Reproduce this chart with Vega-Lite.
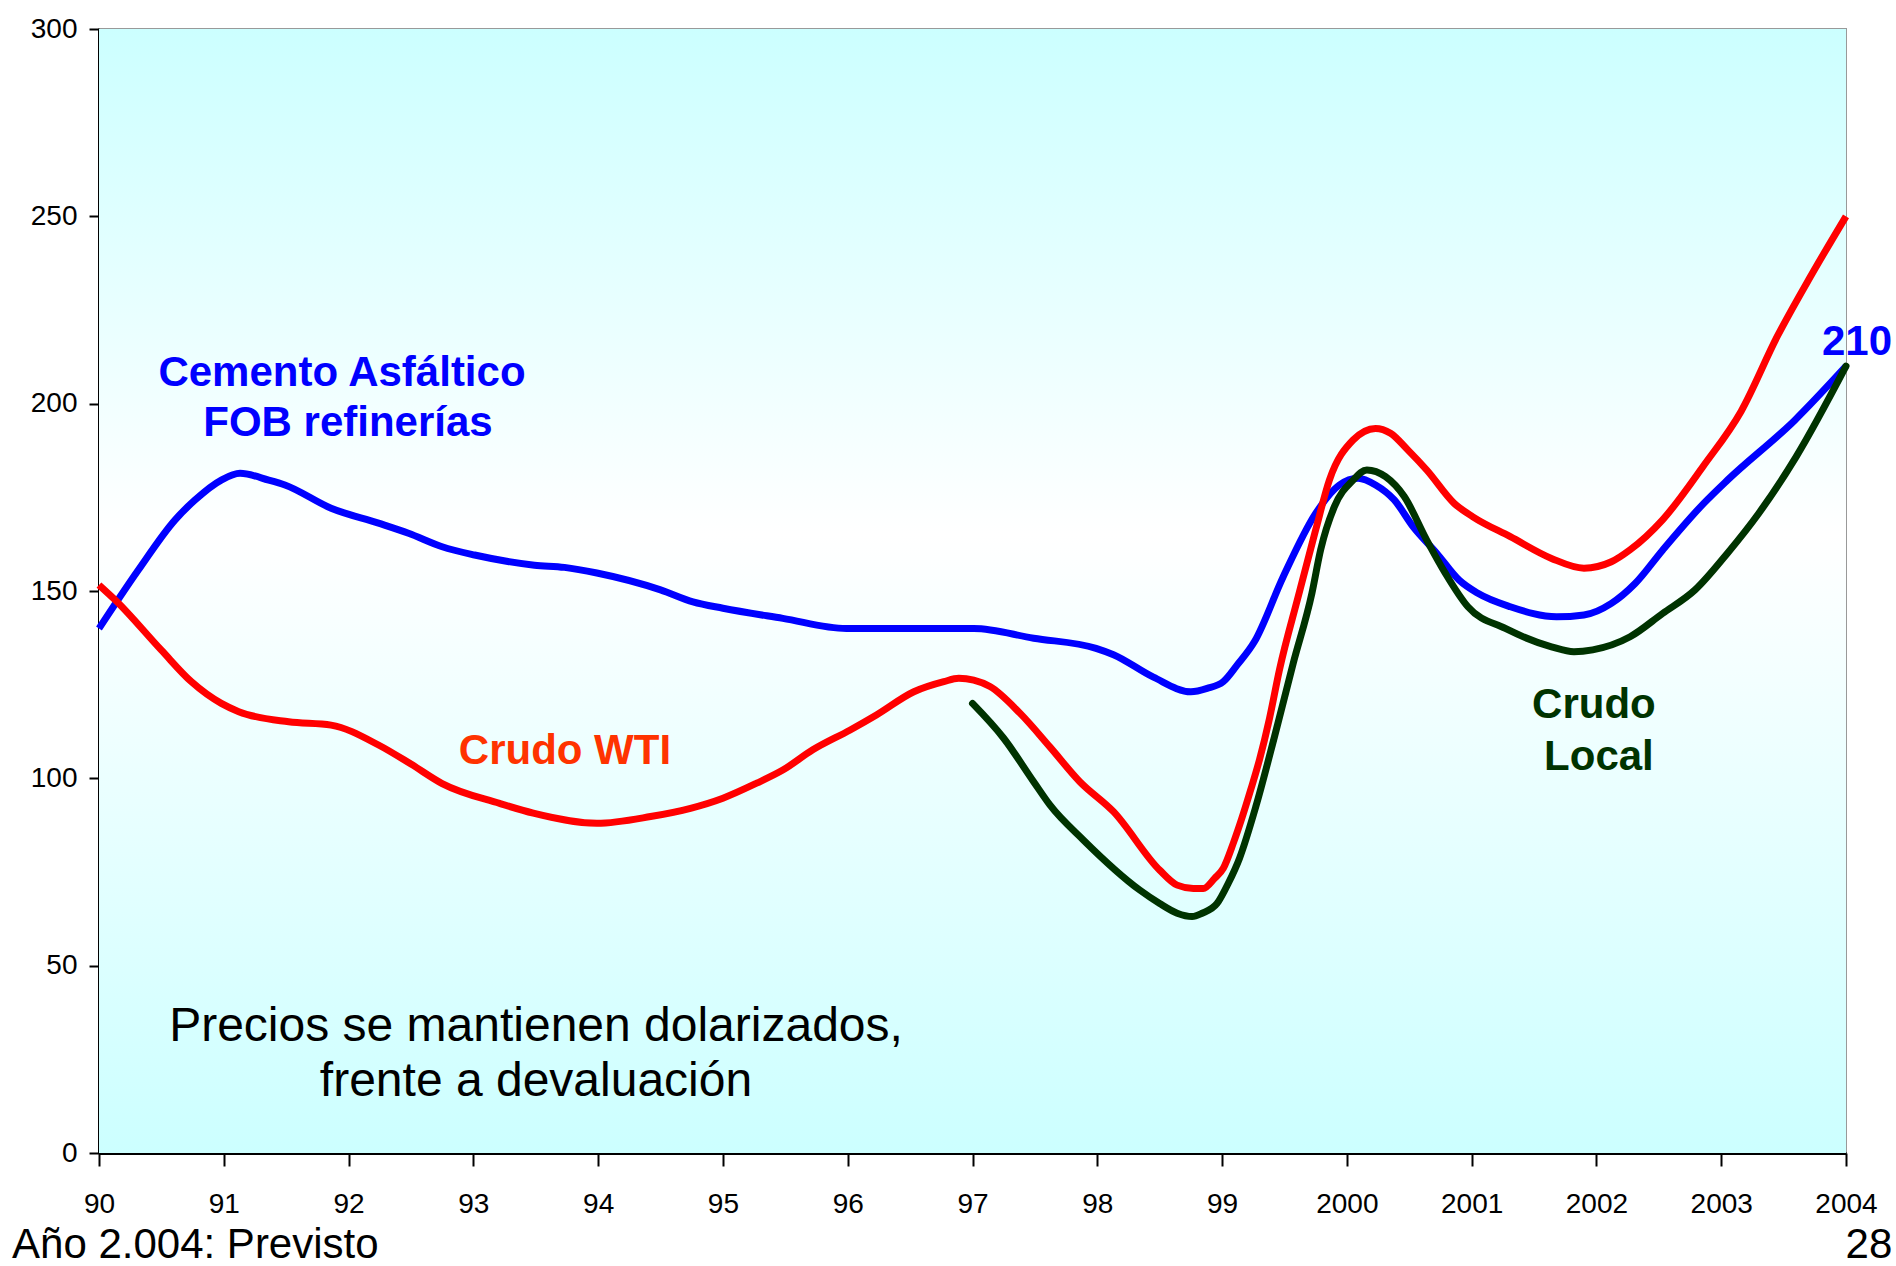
{
  "$schema": "https://vega.github.io/schema/vega-lite/v6.json",
  "width": 1747,
  "height": 1124,
  "autosize": {"type": "none"},
  "padding": {"left": 99, "top": 29, "right": 50, "bottom": 113},
  "background": "white",
  "config": {
    "view": {"stroke": "#999999", "strokeWidth": 2},
    "font": "Liberation Sans"
  },
  "datasets": {
    "series": [
      {"s":"Cemento","year":1990.0,"v":140.0},{"s":"Cemento","year":1990.315,"v":155.6},{"s":"Cemento","year":1990.61,"v":169.0},{"s":"Cemento","year":1990.77,"v":174.3},{"s":"Cemento","year":1990.98,"v":179.6},{"s":"Cemento","year":1991.13,"v":181.4},{"s":"Cemento","year":1991.36,"v":179.6},{"s":"Cemento","year":1991.49,"v":178.3},{"s":"Cemento","year":1991.86,"v":172.1},{"s":"Cemento","year":1992.24,"v":168.1},{"s":"Cemento","year":1992.48,"v":165.4},{"s":"Cemento","year":1992.75,"v":161.8},{"s":"Cemento","year":1993.01,"v":159.6},{"s":"Cemento","year":1993.49,"v":156.9},{"s":"Cemento","year":1993.73,"v":156.3},{"s":"Cemento","year":1993.99,"v":154.8},{"s":"Cemento","year":1994.5,"v":150.3},{"s":"Cemento","year":1994.76,"v":147.1},{"s":"Cemento","year":1995.0,"v":145.4},{"s":"Cemento","year":1995.48,"v":142.7},{"s":"Cemento","year":1995.99,"v":140.0},{"s":"Cemento","year":1997.01,"v":140.0},{"s":"Cemento","year":1997.49,"v":137.4},{"s":"Cemento","year":1997.99,"v":134.7},{"s":"Cemento","year":1998.13,"v":133.0},{"s":"Cemento","year":1998.45,"v":127.0},{"s":"Cemento","year":1998.75,"v":123.1},{"s":"Cemento","year":1998.88,"v":124.0},{"s":"Cemento","year":1999.01,"v":125.8},{"s":"Cemento","year":1999.12,"v":130.2},{"s":"Cemento","year":1999.26,"v":136.5},{"s":"Cemento","year":1999.49,"v":153.8},{"s":"Cemento","year":1999.75,"v":170.7},{"s":"Cemento","year":1999.94,"v":178.3},{"s":"Cemento","year":2000.09,"v":180.1},{"s":"Cemento","year":2000.23,"v":178.3},{"s":"Cemento","year":2000.38,"v":174.3},{"s":"Cemento","year":2000.53,"v":167.2},{"s":"Cemento","year":2000.72,"v":160.1},{"s":"Cemento","year":2000.9,"v":152.9},{"s":"Cemento","year":2001.05,"v":149.4},{"s":"Cemento","year":2001.31,"v":145.8},{"s":"Cemento","year":2001.68,"v":143.1},{"s":"Cemento","year":2001.9,"v":143.6},{"s":"Cemento","year":2002.12,"v":146.7},{"s":"Cemento","year":2002.31,"v":152.0},{"s":"Cemento","year":2002.53,"v":160.9},{"s":"Cemento","year":2002.86,"v":173.4},{"s":"Cemento","year":2003.05,"v":179.6},{"s":"Cemento","year":2003.59,"v":195.6},{"s":"Cemento","year":2004.0,"v":210.0},
      {"s":"WTI","year":1990.0,"v":151.6},{"s":"WTI","year":1990.13,"v":147.6},{"s":"WTI","year":1990.5,"v":134.2},{"s":"WTI","year":1990.74,"v":125.8},{"s":"WTI","year":1990.98,"v":120.0},{"s":"WTI","year":1991.12,"v":117.8},{"s":"WTI","year":1991.52,"v":115.1},{"s":"WTI","year":1991.86,"v":114.2},{"s":"WTI","year":1992.24,"v":108.9},{"s":"WTI","year":1992.5,"v":103.8},{"s":"WTI","year":1992.75,"v":98.6},{"s":"WTI","year":1993.21,"v":93.3},{"s":"WTI","year":1993.48,"v":90.7},{"s":"WTI","year":1993.99,"v":88.0},{"s":"WTI","year":1994.42,"v":89.8},{"s":"WTI","year":1994.74,"v":92.0},{"s":"WTI","year":1995.0,"v":94.7},{"s":"WTI","year":1995.27,"v":98.7},{"s":"WTI","year":1995.48,"v":102.2},{"s":"WTI","year":1995.72,"v":107.6},{"s":"WTI","year":1996.02,"v":112.9},{"s":"WTI","year":1996.23,"v":116.9},{"s":"WTI","year":1996.53,"v":123.1},{"s":"WTI","year":1996.77,"v":125.8},{"s":"WTI","year":1996.89,"v":126.7},{"s":"WTI","year":1997.01,"v":126.2},{"s":"WTI","year":1997.14,"v":124.5},{"s":"WTI","year":1997.38,"v":117.4},{"s":"WTI","year":1997.62,"v":108.4},{"s":"WTI","year":1997.86,"v":99.1},{"s":"WTI","year":1998.13,"v":91.1},{"s":"WTI","year":1998.5,"v":75.5},{"s":"WTI","year":1998.64,"v":71.5},{"s":"WTI","year":1998.77,"v":70.6},{"s":"WTI","year":1998.85,"v":70.6},{"s":"WTI","year":1998.94,"v":73.3},{"s":"WTI","year":1999.01,"v":76.0},{"s":"WTI","year":1999.09,"v":82.7},{"s":"WTI","year":1999.16,"v":89.5},{"s":"WTI","year":1999.23,"v":97.0},{"s":"WTI","year":1999.3,"v":105.0},{"s":"WTI","year":1999.38,"v":116.0},{"s":"WTI","year":1999.46,"v":129.0},{"s":"WTI","year":1999.61,"v":148.5},{"s":"WTI","year":1999.75,"v":166.3},{"s":"WTI","year":1999.86,"v":179.6},{"s":"WTI","year":2000.05,"v":190.3},{"s":"WTI","year":2000.23,"v":193.4},{"s":"WTI","year":2000.35,"v":192.1},{"s":"WTI","year":2000.49,"v":187.6},{"s":"WTI","year":2000.64,"v":182.3},{"s":"WTI","year":2000.86,"v":173.4},{"s":"WTI","year":2001.01,"v":169.8},{"s":"WTI","year":2001.31,"v":164.5},{"s":"WTI","year":2001.64,"v":158.7},{"s":"WTI","year":2001.9,"v":156.1},{"s":"WTI","year":2002.12,"v":157.8},{"s":"WTI","year":2002.27,"v":161.0},{"s":"WTI","year":2002.53,"v":169.0},{"s":"WTI","year":2002.86,"v":183.5},{"s":"WTI","year":2003.16,"v":198.0},{"s":"WTI","year":2003.45,"v":218.0},{"s":"WTI","year":2003.72,"v":234.2},{"s":"WTI","year":2004.0,"v":250.0},
      {"s":"Local","year":1997.0,"v":120.0},{"s":"Local","year":1997.25,"v":110.7},{"s":"Local","year":1997.49,"v":99.1},{"s":"Local","year":1997.62,"v":92.9},{"s":"Local","year":1997.89,"v":83.5},{"s":"Local","year":1998.34,"v":70.2},{"s":"Local","year":1998.5,"v":66.6},{"s":"Local","year":1998.64,"v":64.0},{"s":"Local","year":1998.76,"v":63.1},{"s":"Local","year":1998.84,"v":64.0},{"s":"Local","year":1998.96,"v":66.6},{"s":"Local","year":1999.05,"v":72.0},{"s":"Local","year":1999.14,"v":78.7},{"s":"Local","year":1999.27,"v":92.4},{"s":"Local","year":1999.42,"v":111.1},{"s":"Local","year":1999.57,"v":130.7},{"s":"Local","year":1999.72,"v":149.4},{"s":"Local","year":1999.79,"v":161.0},{"s":"Local","year":1999.9,"v":172.5},{"s":"Local","year":2000.05,"v":179.6},{"s":"Local","year":2000.16,"v":182.3},{"s":"Local","year":2000.31,"v":180.5},{"s":"Local","year":2000.46,"v":175.2},{"s":"Local","year":2000.64,"v":163.6},{"s":"Local","year":2000.79,"v":154.7},{"s":"Local","year":2000.97,"v":145.8},{"s":"Local","year":2001.27,"v":140.0},{"s":"Local","year":2001.64,"v":135.1},{"s":"Local","year":2001.82,"v":133.8},{"s":"Local","year":2001.97,"v":134.3},{"s":"Local","year":2002.27,"v":137.8},{"s":"Local","year":2002.53,"v":144.0},{"s":"Local","year":2002.79,"v":150.3},{"s":"Local","year":2003.05,"v":160.1},{"s":"Local","year":2003.3,"v":170.7},{"s":"Local","year":2003.6,"v":185.8},{"s":"Local","year":2004.0,"v":210.0}
    ]
  },
  "layer": [
    {
      "data": {"values": [{"a": 1990, "b": 2004, "lo": 0, "hi": 300}]},
      "mark": {"type": "rect", "fill": {"gradient": "linear", "x1": 0, "y1": 0, "x2": 0, "y2": 1, "stops": [{"offset": 0, "color": "#ccffff"}, {"offset": 0.45, "color": "#ffffff"}, {"offset": 1, "color": "#ccffff"}]}},
      "encoding": {
        "x": {"field": "a", "type": "quantitative", "scale": {"domain": [1990, 2004], "nice": false, "zero": false}, "axis": {"title": null, "grid": false, "values": [1990,1991,1992,1993,1994,1995,1996,1997,1998,1999,2000,2001,2002,2003,2004], "domainColor": "black", "domainWidth": 3, "tickColor": "black", "tickWidth": 2, "tickSize": 13, "labelPadding": 24, "labelFlush": false, "labelOverlap": false, "labelColor": "black", "labelFont": "Liberation Sans", "labelFontSize": 28, "labelExpr": "datum.value < 2000 ? format(datum.value - 1900, 'd') : format(datum.value, 'd')"}},
        "x2": {"field": "b"},
        "y": {"field": "lo", "type": "quantitative", "scale": {"domain": [0, 300], "nice": false}, "axis": {"title": null, "grid": false, "values": [0,50,100,150,200,250,300], "domainColor": "black", "domainWidth": 3, "tickColor": "black", "tickWidth": 2, "tickSize": 10, "labelPadding": 12, "labelColor": "black", "labelFont": "Liberation Sans", "labelFontSize": 28, "labelOverlap": false, "labelFlush": false}},
        "y2": {"field": "hi"}
      }
    },
    {
      "data": {"name": "series"},
      "transform": [{"filter": "datum.s === 'Cemento'"}],
      "mark": {"type": "line", "color": "#0000ff", "strokeWidth": 7, "strokeJoin": "round", "interpolate": "monotone"},
      "encoding": {"x": {"field": "year", "type": "quantitative"}, "y": {"field": "v", "type": "quantitative"}}
    },
    {
      "data": {"name": "series"},
      "transform": [{"filter": "datum.s === 'WTI'"}],
      "mark": {"type": "line", "color": "#ff0000", "strokeWidth": 7, "strokeJoin": "round", "interpolate": "monotone"},
      "encoding": {"x": {"field": "year", "type": "quantitative"}, "y": {"field": "v", "type": "quantitative"}}
    },
    {
      "data": {"name": "series"},
      "transform": [{"filter": "datum.s === 'Local'"}],
      "mark": {"type": "line", "color": "#003300", "strokeWidth": 7, "strokeJoin": "round", "strokeCap": "round", "interpolate": "monotone"},
      "encoding": {"x": {"field": "year", "type": "quantitative"}, "y": {"field": "v", "type": "quantitative"}}
    },
    {
      "data": {"values": [{"t": "Cemento Asfáltico", "x": 1991.947, "y": 208.3}, {"t": "FOB refinerías", "x": 1991.995, "y": 194.8}, {"t": "210", "x": 2004.088, "y": 216.5}]},
      "mark": {"type": "text", "color": "#0000ff", "font": "Liberation Sans", "fontWeight": "bold", "fontSize": 42, "align": "center", "baseline": "middle"},
      "encoding": {"x": {"field": "x", "type": "quantitative"}, "y": {"field": "y", "type": "quantitative"}, "text": {"field": "t"}}
    },
    {
      "data": {"values": [{"t": "Crudo WTI", "x": 1993.734, "y": 107.3}]},
      "mark": {"type": "text", "color": "#ff3300", "font": "Liberation Sans", "fontWeight": "bold", "fontSize": 42, "align": "center", "baseline": "middle"},
      "encoding": {"x": {"field": "x", "type": "quantitative"}, "y": {"field": "y", "type": "quantitative"}, "text": {"field": "t"}}
    },
    {
      "data": {"values": [{"t": "Crudo", "x": 2001.98, "y": 119.6}, {"t": "Local", "x": 2002.02, "y": 105.7}]},
      "mark": {"type": "text", "color": "#003300", "font": "Liberation Sans", "fontWeight": "bold", "fontSize": 42, "align": "center", "baseline": "middle"},
      "encoding": {"x": {"field": "x", "type": "quantitative"}, "y": {"field": "y", "type": "quantitative"}, "text": {"field": "t"}}
    },
    {
      "data": {"values": [{"t": "Precios se mantienen dolarizados,", "x": 1993.502, "y": 33.6}, {"t": "frente a devaluación", "x": 1993.502, "y": 18.9}]},
      "mark": {"type": "text", "color": "black", "font": "Liberation Sans", "fontSize": 48, "align": "center", "baseline": "middle"},
      "encoding": {"x": {"field": "x", "type": "quantitative"}, "y": {"field": "y", "type": "quantitative"}, "text": {"field": "t"}}
    },
    {
      "data": {"values": [{"t": "Año 2.004: Previsto", "x": 1989.303, "y": -24.6}]},
      "mark": {"type": "text", "color": "black", "font": "Liberation Sans", "fontSize": 42, "align": "left", "baseline": "middle"},
      "encoding": {"x": {"field": "x", "type": "quantitative"}, "y": {"field": "y", "type": "quantitative"}, "text": {"field": "t"}}
    },
    {
      "data": {"values": [{"t": "28", "x": 2004.184, "y": -24.6}]},
      "mark": {"type": "text", "color": "black", "font": "Liberation Sans", "fontSize": 42, "align": "center", "baseline": "middle"},
      "encoding": {"x": {"field": "x", "type": "quantitative"}, "y": {"field": "y", "type": "quantitative"}, "text": {"field": "t"}}
    }
  ]
}
